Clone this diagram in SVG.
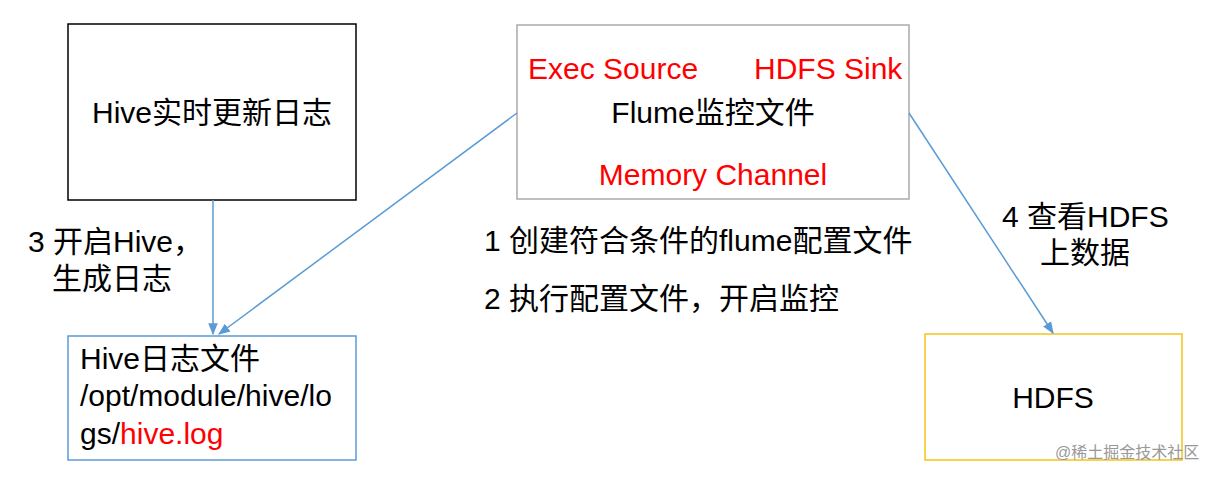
<svg xmlns="http://www.w3.org/2000/svg" width="1231" height="478" viewBox="0 0 1231 478">
<style>
text{font-family:"Liberation Sans","Noto Sans CJK SC",sans-serif;font-size:30px;fill:#000}
.r{fill:#f00}
.c{stroke:#5b9bd5;stroke-width:1.5;fill:none;marker-end:url(#a)}
</style>
<defs><marker id="a" viewBox="0 0 10 10" refX="9" refY="5" markerWidth="8" markerHeight="8" orient="auto"><path d="M0,1L10,5L0,9z" fill="#5b9bd5"/></marker></defs>
<rect width="1231" height="478" fill="#fff"/>
<g id="hive"><rect x="68" y="24" width="288" height="176" fill="none" stroke="#000" stroke-width="1.5"/><text x="212" y="123" text-anchor="middle">Hive实时更新日志</text></g>
<g id="flume"><rect x="517" y="25" width="392" height="174" fill="none" stroke="#aaa" stroke-width="1.5"/>
<text x="528" y="79" class="r">Exec Source</text><text x="754" y="79" class="r">HDFS Sink</text>
<text x="713" y="123" text-anchor="middle">Flume监控文件</text>
<text x="713" y="185" text-anchor="middle" class="r">Memory Channel</text></g>
<g id="log"><rect x="68" y="336" width="288" height="124" fill="none" stroke="#5b9bd5" stroke-width="1.5"/>
<text x="80" y="369">Hive日志文件</text><text x="80" y="406">/opt/module/hive/lo</text><text x="80" y="444">gs/<tspan class="r">hive.log</tspan></text></g>
<g id="hdfs"><rect x="925" y="334" width="257" height="126" fill="none" stroke="#f5c518" stroke-width="1.5"/><text x="1053" y="408" text-anchor="middle">HDFS</text></g>
<g id="connectors">
<path class="c" d="M213,200V334"/>
<path class="c" d="M517,113L219,334"/>
<path class="c" d="M909,113L1053,333"/>
</g>
<text x="28" y="252">3 开启Hive，</text><text x="52" y="289">生成日志</text>
<text x="484" y="251">1 创建符合条件的flume配置文件</text>
<text x="484" y="309">2 执行配置文件，开启监控</text>
<text x="1002" y="227">4 查看HDFS</text><text x="1040" y="263">上数据</text>
<text x="1055" y="458" style="font-size:16px;fill:#999">@稀土掘金技术社区</text>
</svg>
